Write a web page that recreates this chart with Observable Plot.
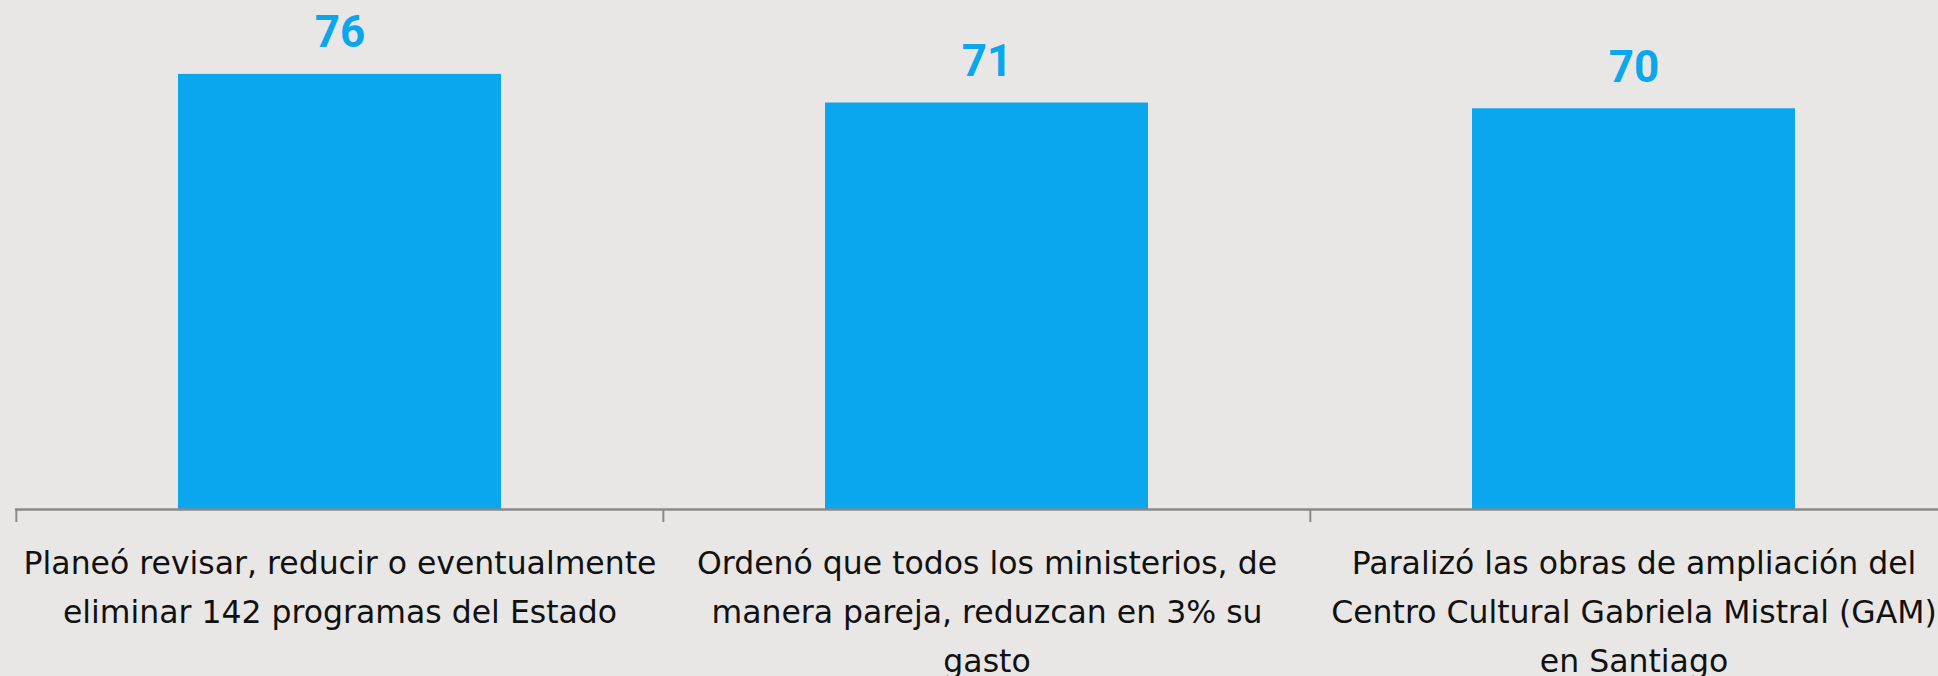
<!DOCTYPE html>
<html>
<head>
<meta charset="utf-8">
<script src="https://cdn.jsdelivr.net/npm/d3@7"></script>
<script src="https://cdn.jsdelivr.net/npm/@observablehq/plot@0.6"></script>
<style>
  html, body { margin: 0; padding: 0; background: #e8e7e5; }
  #chart svg { display: block; }
</style>
</head>
<body>
<div id="chart"></div>
<script>
const categories = ["A", "B", "C"];
const values = [76, 71, 70];
const tickLabels = [
  "Planeó revisar, reducir o eventualmente\neliminar 142 programas del Estado",
  "Ordenó que todos los ministerios, de\nmanera pareja, reduzcan en 3% su\ngasto",
  "Paralizó las obras de ampliación del\nCentro Cultural Gabriela Mistral (GAM)\nen Santiago"
];

const data = categories.map((c, i) => ({category: c, value: values[i]}));
const labelOf = new Map(categories.map((c, i) => [c, tickLabels[i]]));

const W = 1938, H = 676;
const xRange = [15, 1957];
const step = (xRange[1] - xRange[0]) / categories.length;
const blue = "#0aa6ee";

const chart = Plot.plot({
  width: W,
  height: H,
  marginTop: 51,
  marginBottom: 167,
  marginLeft: 15,
  marginRight: 0,
  style: {background: "#e8e7e5", color: "#111"},
  x: {domain: categories, range: xRange, padding: 0, axis: null, label: null},
  y: {domain: [0, 80], axis: null},
  marks: [
    Plot.barY(data, {x: "category", y: "value", fill: blue, insetLeft: 162, insetRight: 162}),
    Plot.ruleY([0], {stroke: "#8a8a8a", strokeWidth: 2.5}),
    Plot.axisX({tickSize: 13, tickFormat: () => "", label: null, dx: -step / 2, stroke: "#8a8a8a", strokeWidth: 2}),
    Plot.axisX({
      tickSize: 0,
      tickPadding: 30,
      label: null,
      tickFormat: d => labelOf.get(d),
      fontSize: 31.5,
      lineHeight: 1.55,
      fontFamily: "'DejaVu Sans', sans-serif",
      fill: "#111"
    }),
    Plot.text(data, {
      x: "category", y: "value", text: d => String(d.value),
      dy: -27, lineAnchor: "bottom",
      fontSize: 44, fontWeight: "bold", fontFamily: "Roboto, sans-serif", fill: blue
    })
  ]
});
document.getElementById("chart").append(chart);
</script>
</body>
</html>
